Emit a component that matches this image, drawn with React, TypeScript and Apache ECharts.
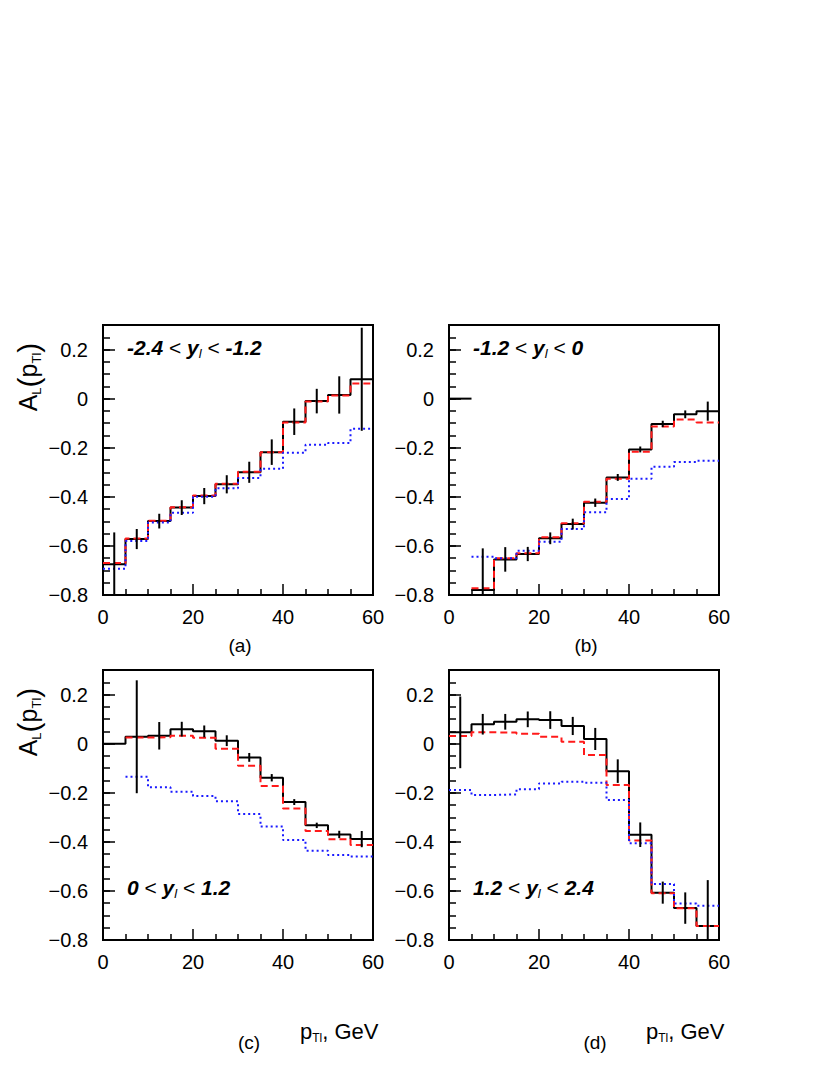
import React, { useEffect, useRef } from "react";
import * as echarts from "echarts";

const FONT = '"Liberation Sans", Arial, Helvetica, sans-serif';

// bin low edges in GeV (bin width 5)
const ptLow = [0, 5, 10, 15, 20, 25, 30, 35, 40, 45, 50, 55];
const binWidth = 5;

const xTicks = [0, 20, 40, 60];
const yMin = -0.8;
const yMax = 0.3;

// (a) -2.4 < y_l < -1.2
const aBlack = [-0.675, -0.572, -0.499, -0.444, -0.397, -0.349, -0.3, -0.218, -0.094, -0.01, 0.015, 0.079];
const aErr = [0.13, 0.041, 0.03, 0.03, 0.033, 0.037, 0.043, 0.052, 0.054, 0.05, 0.076, 0.21];
const aRed = [-0.67, -0.57, -0.497, -0.442, -0.395, -0.347, -0.298, -0.218, -0.097, -0.012, 0.013, 0.062];
const aBlue = [-0.693, -0.58, -0.505, -0.465, -0.4, -0.365, -0.323, -0.286, -0.22, -0.188, -0.181, -0.123];

// (b) -1.2 < y_l < 0
const bBlack = [0, -0.78, -0.655, -0.633, -0.569, -0.511, -0.424, -0.321, -0.207, -0.103, -0.064, -0.051];
const bErr = [null, 0.17, 0.05, 0.029, 0.024, 0.022, 0.017, 0.014, 0.012, 0.013, 0.016, 0.039];
const bRed = [null, -0.773, -0.65, -0.63, -0.565, -0.508, -0.42, -0.326, -0.216, -0.114, -0.085, -0.097];
const bBlue = [null, -0.644, -0.65, -0.62, -0.583, -0.531, -0.463, -0.409, -0.326, -0.277, -0.258, -0.253];

// (c) 0 < y_l < 1.2
const cBlack = [0, 0.028, 0.032, 0.059, 0.05, 0.012, -0.056, -0.139, -0.238, -0.333, -0.37, -0.389];
const cErr = [null, 0.23, 0.056, 0.03, 0.024, 0.022, 0.018, 0.015, 0.012, 0.011, 0.015, 0.033];
const cRed = [null, 0.025, 0.026, 0.032, 0.024, -0.021, -0.09, -0.173, -0.264, -0.356, -0.39, -0.413];
const cBlue = [null, -0.135, -0.178, -0.196, -0.213, -0.235, -0.287, -0.338, -0.393, -0.436, -0.454, -0.46];

// (d) 1.2 < y_l < 2.4
const dBlack = [0.046, 0.079, 0.089, 0.099, 0.096, 0.072, 0.019, -0.112, -0.371, -0.607, -0.67, -0.743];
const dErr = [0.146, 0.042, 0.032, 0.032, 0.036, 0.037, 0.045, 0.048, 0.05, 0.045, 0.064, 0.187];
const dRed = [0.031, 0.046, 0.045, 0.04, 0.028, 0.008, -0.046, -0.169, -0.395, -0.61, -0.671, -0.743];
const dBlue = [-0.189, -0.209, -0.207, -0.186, -0.162, -0.155, -0.159, -0.23, -0.406, -0.572, -0.651, -0.66];

const rangeLabels = [
  ["-2.4", "-1.2"],
  ["-1.2", "0"],
  ["0", "1.2"],
  ["1.2", "2.4"],
];
const panelTags = ["(a)", "(b)", "(c)", "(d)"];

type Panel = {
  black: (number | null)[];
  err: (number | null)[];
  red: (number | null)[];
  blue: (number | null)[];
  splitFirst: boolean;
};

const panels: Panel[] = [
  { black: aBlack, err: aErr, red: aRed, blue: aBlue, splitFirst: false },
  { black: bBlack, err: bErr, red: bRed, blue: bBlue, splitFirst: true },
  { black: cBlack, err: cErr, red: cRed, blue: cBlue, splitFirst: false },
  { black: dBlack, err: dErr, red: dRed, blue: dBlue, splitFirst: false },
];

// layout (pixels)
const gridPos = [
  { left: 103, top: 325 },
  { left: 449, top: 325 },
  { left: 103, top: 670 },
  { left: 449, top: 670 },
];
const GW = 270;
const GH = 270;

function steps(vals: (number | null)[], from = 0): number[][] {
  const pts: number[][] = [];
  let last: number | null = null;
  let lastI = -1;
  for (let i = from; i < vals.length; i++) {
    const v = vals[i];
    if (v == null) continue;
    pts.push([ptLow[i], v]);
    last = v;
    lastI = i;
  }
  if (last != null) pts.push([ptLow[lastI] + binWidth, last]);
  return pts;
}

function errData(black: (number | null)[], err: (number | null)[]) {
  const out: number[][] = [];
  for (let i = 0; i < black.length; i++) {
    const e = err[i];
    const v = black[i];
    if (e == null || v == null) continue;
    out.push([ptLow[i] + binWidth / 2, v, e]);
  }
  return out;
}

function fmtY(v: number): string {
  const r = Math.round(v * 100) / 100;
  const k = Math.round(r * 5 * 1000) / 1000;
  if (Math.abs(k - Math.round(k)) > 1e-6) return "";
  if (Math.abs(r) < 1e-9) return "0";
  return (r < 0 ? "\u2212" : "") + Math.abs(r).toFixed(1);
}

function buildOption() {
  const grid: any[] = [];
  const xAxis: any[] = [];
  const yAxis: any[] = [];
  const series: any[] = [];
  const graphic: any[] = [];

  panels.forEach((p, i) => {
    grid.push({
      left: gridPos[i].left,
      top: gridPos[i].top,
      width: GW,
      height: GH,
      show: true,
      borderColor: "#000",
      borderWidth: 2,
      backgroundColor: "transparent",
    });
    xAxis.push({
      gridIndex: i,
      type: "value",
      position: "bottom",
      min: xTicks[0],
      max: xTicks[xTicks.length - 1],
      interval: xTicks[1] - xTicks[0],
      axisLine: { show: false, onZero: false },
      axisTick: { show: true, inside: true, length: 11, lineStyle: { color: "#000", width: 1.5 } },
      minorTick: { show: true, splitNumber: 4, length: 6, lineStyle: { color: "#000", width: 1.5 } },
      axisLabel: { fontFamily: FONT, fontSize: 20, color: "#000", margin: 12 },
      splitLine: { show: false },
      minorSplitLine: { show: false },
    });
    // minor ticks axis
    yAxis.push({
      gridIndex: i,
      type: "value",
      position: "left",
      offset: 0,
      min: yMin,
      max: yMax,
      interval: 0.05,
      axisLine: { show: false, onZero: false },
      axisTick: { show: true, inside: true, length: 7, lineStyle: { color: "#000", width: 1.5 } },
      axisLabel: { show: false },
      splitLine: { show: false },
    });
    // major ticks + labels axis
    yAxis.push({
      gridIndex: i,
      type: "value",
      position: "left",
      offset: 0,
      min: yMin,
      max: yMax,
      interval: 0.2,
      axisLine: { show: false, onZero: false },
      axisTick: { show: true, inside: true, length: 12, lineStyle: { color: "#000", width: 1.5 } },
      axisLabel: {
        fontFamily: FONT,
        fontSize: 20,
        color: "#000",
        margin: 15,
        formatter: (v: number) => fmtY(v),
      },
      splitLine: { show: false },
    });
    const yi = 2 * i + 1;

    if (p.splitFirst) {
      series.push({
        type: "line",
        xAxisIndex: i,
        yAxisIndex: yi,
        data: [
          [ptLow[0], p.black[0] as number],
          [ptLow[0] + binWidth, p.black[0] as number],
        ],
        step: "end",
        symbol: "none",
        silent: true,
        lineStyle: { color: "#000", width: 2 },
        z: 2,
      });
    }
    series.push({
      type: "line",
      xAxisIndex: i,
      yAxisIndex: yi,
      data: steps(p.black, p.splitFirst ? 1 : 0),
      step: "end",
      symbol: "none",
      silent: true,
      lineStyle: { color: "#000", width: 2 },
      z: 2,
    });
    series.push({
      type: "line",
      xAxisIndex: i,
      yAxisIndex: yi,
      data: steps(p.red),
      step: "end",
      symbol: "none",
      silent: true,
      lineStyle: { color: "#ff1a1a", width: 2, type: [7, 4] },
      z: 3,
    });
    series.push({
      type: "line",
      xAxisIndex: i,
      yAxisIndex: yi,
      data: steps(p.blue),
      step: "end",
      symbol: "none",
      silent: true,
      lineStyle: { color: "#1a1aff", width: 2, type: [2, 3] },
      z: 3,
    });
    series.push({
      type: "custom",
      xAxisIndex: i,
      yAxisIndex: yi,
      data: errData(p.black, p.err),
      encode: { x: 0, y: 1 },
      silent: true,
      z: 4,
      renderItem: (params: any, api: any) => {
        const x = api.value(0);
        const y = api.value(1);
        const e = api.value(2);
        const lo = Math.max(y - e, yMin);
        const hi = Math.min(y + e, yMax);
        const p1 = api.coord([x, lo]);
        const p2 = api.coord([x, hi]);
        return {
          type: "line",
          shape: { x1: p1[0], y1: p1[1], x2: p2[0], y2: p2[1] },
          style: { stroke: "#000", lineWidth: 2 },
        };
      },
    });

    // range label
    const [lo, hi] = rangeLabels[i];
    const topRow = i < 2;
    graphic.push({
      type: "text",
      x: gridPos[i].left + 24,
      y: topRow ? gridPos[i].top + 22 : gridPos[i].top + 217,
      style: {
        text: `{n|${lo}} {r|<} {n|y}{s|l}{r| <} {n|${hi}}`,
        fontFamily: FONT,
        fontSize: 21,
        fill: "#000",
        verticalAlign: "middle",
        align: "left",
        rich: {
          n: { fontFamily: FONT, fontSize: 21, fontWeight: "bold", fontStyle: "italic", lineHeight: 26 },
          r: { fontFamily: FONT, fontSize: 21, lineHeight: 26 },
          s: { fontFamily: FONT, fontSize: 13, fontStyle: "italic", verticalAlign: "bottom", lineHeight: 12 },
        },
      },
    });

    // panel tag
    graphic.push({
      type: "text",
      x: gridPos[i].left + (topRow ? 137 : 146),
      y: topRow ? gridPos[i].top + 320 : gridPos[i].top + 372,
      style: {
        text: panelTags[i],
        fontFamily: FONT,
        fontSize: 19,
        fill: "#000",
        align: "center",
        verticalAlign: "middle",
      },
    });

    // y axis title on left column
    if (i % 2 === 0) {
      graphic.push({
        type: "text",
        x: 28,
        y: gridPos[i].top + 52,
        rotation: Math.PI / 2,
        style: {
          text: "{a|A}{s|L}{p|(}{a|p}{s|Tl}{p|)}",
          fontFamily: FONT,
          fill: "#000",
          align: "center",
          verticalAlign: "middle",
          rich: {
            a: { fontFamily: FONT, fontSize: 25, lineHeight: 30 },
            s: { fontFamily: FONT, fontSize: 13, verticalAlign: "bottom", lineHeight: 14 },
            p: { fontFamily: FONT, fontSize: 30, lineHeight: 30 },
          },
        },
      });
    }

    // x axis title (bottom row)
    if (!topRow) {
      graphic.push({
        type: "text",
        x: gridPos[i].left + 197,
        y: gridPos[i].top + 361,
        style: {
          text: "{p|p}{s|Tl}{p|, GeV}",
          fontFamily: FONT,
          fill: "#000",
          align: "left",
          verticalAlign: "middle",
          rich: {
            p: { fontFamily: FONT, fontSize: 22, lineHeight: 26 },
            s: { fontFamily: FONT, fontSize: 12, verticalAlign: "bottom", lineHeight: 12 },
          },
        },
      });
    }
  });

  return {
    animation: false,
    backgroundColor: "#fff",
    grid,
    xAxis,
    yAxis,
    series,
    graphic,
  };
}

export default function App() {
  const ref = useRef<HTMLDivElement>(null);
  useEffect(() => {
    if (!ref.current) return;
    const chart = echarts.init(ref.current, null, { renderer: "svg", width: 830, height: 1075 });
    chart.setOption(buildOption() as any);
    return () => chart.dispose();
  }, []);
  return (
    <div
      ref={ref}
      style={{ position: "absolute", left: 0, top: 0, width: 830, height: 1075, background: "#fff" }}
    />
  );
}
